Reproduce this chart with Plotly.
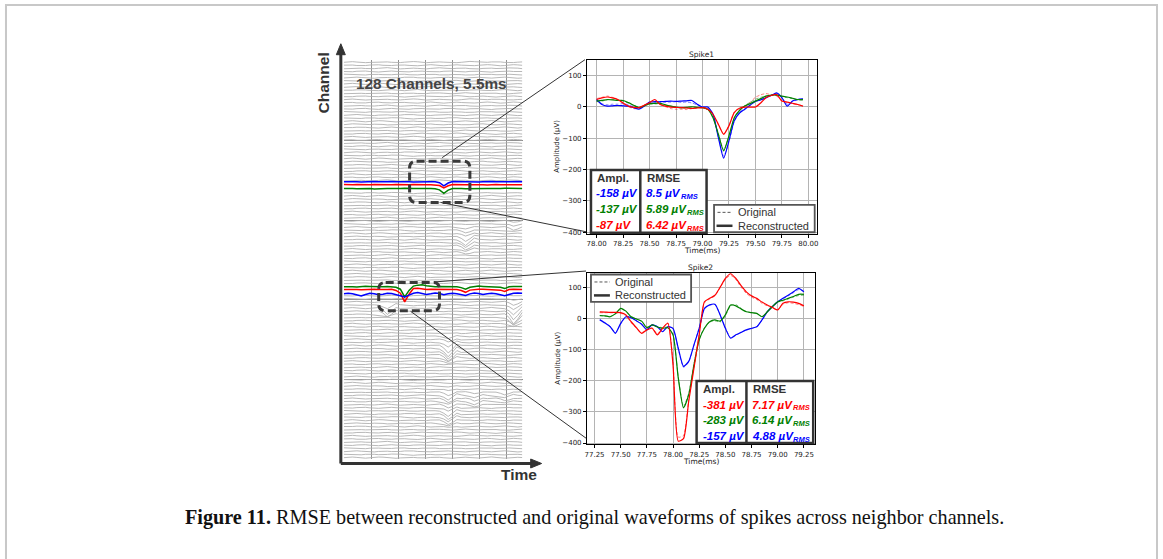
import plotly.graph_objects as go

W, H = 1163, 559


def X(p):
    return p / W


def Y(p):
    return 1 - p / H


# ---------------- data: Spike1 panel (µV vs ms) ----------------
S1_T0, S1_DT, S1_N = 78.00, 0.05, 40
S1_TIME = [round(S1_T0 + S1_DT * i, 2) for i in range(S1_N)]
S1_BLUE_REC = [23, 7, 2, 3, 4, 3, 2, -3, -8, 2, 15, 16, 16, 17, 18, 17, 18, 19, 20, 8,
               -1, -1, -24, -98, -164, -109, -45, -20, -8, 5, 18, 22, 29, 36, 44, 29, 2, 18, 23, 25]
S1_GREEN_REC = [18, 20, 23, 22, 20, 20, 13, 5, -3, 3, 10, 11, 11, 6, 2, -1, -3, -2, 0, -2,
                -3, -8, -35, -88, -141, -93, -35, -12, 2, 10, 18, 26, 34, 37, 37, 34, 31, 27, 23, 23]
S1_RED_REC = [23, 28, 31, 28, 23, 12, 2, -2, -3, 5, 13, 23, 7, 2, -1, -2, -3, -4, -5, -4,
              -3, -8, -24, -56, -88, -61, -19, -5, -1, -1, -1, 12, 29, 36, 39, 18, 15, 11, 7, 2]
S1_BLUE_ORIG = [20, 10, 6, 8, 8, 10, 6, 0, -6, 4, 12, 14, 13, 14, 15, 16, 14, 15, 12, 6,
                0, -2, -26, -96, -158, -112, -48, -18, -6, 6, 16, 22, 28, 36, 42, 30, 8, 16, 22, 24]
S1_GREEN_ORIG = [16, 18, 22, 24, 22, 18, 12, 4, -2, 2, 8, 9, 9, 5, 2, -1, -4, -3, -1, -2,
                 -4, -9, -36, -86, -137, -95, -38, -10, 4, 14, 24, 30, 34, 36, 36, 33, 29, 26, 22, 21]
S1_RED_ORIG = [26, 30, 34, 30, 22, 10, 0, -6, -6, 2, 10, 18, 8, 0, -6, -8, -8, -9, -6, -4,
               -3, -9, -26, -58, -87, -60, -17, -3, 2, 14, 30, 38, 42, 38, 34, 20, 14, 10, 6, 3]
S1_XTICKS = [78.00, 78.25, 78.50, 78.75, 79.00, 79.25, 79.50, 79.75, 80.00]

# ---------------- data: Spike2 panel ----------------
S2_T0, S2_DT, S2_N = 77.30, 0.05, 40
S2_TIME = [round(S2_T0 + S2_DT * i, 2) for i in range(S2_N)]
S2_RED_REC = [21, 20, 19, 19, 18, 11, -11, -30, -48, -37, -32, -53, -32, -16, -150,
              -394, -386, -266, -160, -53, 53, 64, 74, 100, 128, 143, 128, 105, 85, 72,
              64, 52, 43, 35, 27, 48, 53, 52, 48, 40]
S2_GREEN_REC = [9, 8, 5, 15, 32, 23, 5, -2, -9, -30, -21, -28, -32, -30, -53,
                -191, -287, -245, -149, -69, -32, -11, -5, -9, 11, 43, 40, 30, 21, 18,
                16, 5, 21, 38, 53, 58, 64, 70, 77, 77]
S2_BLUE_REC = [-5, -15, -27, -48, -16, 5, 2, -8, -19, -37, -21, -27, -43, -27, -32,
               -96, -154, -138, -85, -32, 32, 43, 45, 11, -32, -64, -53, -45, -37, -32,
               -27, -5, 21, 38, 53, 64, 74, 85, 96, 85]
S2_RED_ORIG = [18, 18, 18, 17, 16, 8, -14, -32, -46, -35, -30, -50, -30, -14, -140,
               -381, -376, -260, -155, -50, 50, 62, 72, 98, 125, 138, 124, 100, 80, 68,
               60, 48, 40, 33, 27, 45, 50, 48, 44, 38]
S2_GREEN_ORIG = [8, 7, 6, 14, 30, 22, 4, -2, -10, -28, -22, -26, -30, -28, -55,
                 -188, -283, -240, -146, -66, -30, -12, -8, -12, 8, 40, 44, 32, 22, 18,
                 15, 6, 20, 36, 52, 56, 62, 68, 73, 74]
S2_BLUE_ORIG = [-4, -14, -26, -46, -18, 4, 2, -8, -18, -35, -22, -26, -40, -26, -34,
                -98, -157, -140, -86, -30, 30, 42, 44, 12, -30, -62, -55, -45, -38, -33,
                -26, -6, 20, 36, 52, 62, 72, 82, 92, 86]
S2_XTICKS = [77.25, 77.50, 77.75, 78.00, 78.25, 78.50, 78.75, 79.00, 79.25]
Y_TICKS = [-400, -300, -200, -100, 0, 100]

# ---------------- data: tables ----------------
S1_AMPL = ["-158 µV", "-137 µV", "-87 µV"]
S1_RMSE = ["8.5", "5.89", "6.42"]
S1_COLORS = ["#0000ff", "#008000", "#ff0000"]
S2_AMPL = ["-381 µV", "-283 µV", "-157 µV"]
S2_RMSE = ["7.17", "6.14", "4.88"]
S2_COLORS = ["#ff0000", "#008000", "#0000ff"]

# ---------------- data: 128-channel overview (channel units, 4-sample steps) ----------------
N_CH = 128
SAMPLE_STEP = 4
GRAY_TEMPLATES = [
    [0.0, 0.15, 0.25, 0.1, -0.1, -0.2, -0.05, 0.15, 0.25, 0.2, 0.0, -0.15, -0.25, -0.1, 0.05,
     0.2, 0.1, -0.05, -0.2, -0.1, 0.1, 0.25, 0.15, -0.05, -0.2, -0.25, -0.05, 0.1, 0.2, 0.05,
     -0.1, -0.15, 0.0, 0.2, 0.3, 0.1, -0.1, -0.2, -0.1, 0.1, 0.15, 0.05],
    [0.1, 0.0, -0.15, -0.25, -0.1, 0.1, 0.2, 0.1, -0.05, -0.1, 0.05, 0.2, 0.3, 0.15, -0.05,
     -0.2, -0.3, -0.15, 0.0, 0.1, 0.05, -0.1, -0.2, -0.05, 0.15, 0.25, 0.2, 0.0, -0.15, -0.2,
     -0.05, 0.1, 0.25, 0.15, 0.0, -0.1, -0.2, -0.15, 0.05, 0.2, 0.1, -0.05],
    [-0.1, 0.05, 0.2, 0.25, 0.1, -0.1, -0.25, -0.2, 0.0, 0.15, 0.1, -0.05, -0.15, 0.0, 0.2,
     0.3, 0.2, 0.0, -0.1, -0.2, -0.15, 0.0, 0.1, 0.25, 0.2, 0.05, -0.1, -0.25, -0.2, 0.0,
     0.15, 0.2, 0.05, -0.1, -0.15, 0.0, 0.15, 0.25, 0.1, -0.1, -0.2, -0.1],
    [0.2, 0.1, -0.05, -0.2, -0.3, -0.15, 0.05, 0.2, 0.1, 0.0, -0.1, -0.05, 0.1, 0.25, 0.15,
     -0.05, -0.2, -0.1, 0.05, 0.15, 0.25, 0.1, -0.1, -0.2, -0.1, 0.05, 0.1, 0.0, -0.15, -0.25,
     -0.1, 0.1, 0.2, 0.25, 0.1, -0.05, -0.1, 0.0, 0.15, 0.05, -0.1, -0.15],
    [0.0, -0.2, -0.1, 0.1, 0.25, 0.2, 0.0, -0.15, -0.2, -0.05, 0.15, 0.2, 0.05, -0.1, -0.25,
     -0.15, 0.05, 0.2, 0.15, 0.0, -0.1, -0.2, -0.1, 0.1, 0.3, 0.2, 0.0, -0.2, -0.15, 0.05,
     0.2, 0.1, -0.05, -0.2, -0.25, -0.05, 0.1, 0.2, 0.15, 0.0, -0.1, 0.0],
    [-0.15, -0.05, 0.1, 0.2, 0.1, -0.05, -0.15, -0.1, 0.05, 0.25, 0.3, 0.1, -0.1, -0.2, -0.1,
     0.05, 0.1, 0.0, -0.15, -0.2, 0.0, 0.2, 0.25, 0.1, -0.05, -0.1, 0.05, 0.2, 0.1, -0.1,
     -0.25, -0.2, 0.0, 0.15, 0.1, -0.05, -0.1, 0.05, 0.2, 0.25, 0.1, -0.1],
]
GRAY_SCALE = 0.8
# (first channel, sample, depth per channel from that channel upward)
GRAY_SPIKES = [
    (66, 112, [0.5, 0.9, 1.3, 1.7, 1.8, 1.4, 1.0, 0.7, 0.4]),
    (43, 156, [0.8, 1.5, 2.4, 3.0, 2.8, 2.2, 1.6, 1.0, 0.5]),
    (46, 40, [0.8, 1.6, 2.0, 1.2]),
    (31, 96, [0.6, 1.2, 1.9, 2.5, 2.6, 2.2, 1.6, 1.0, 0.7, 0.4]),
    (10, 96, [0.4, 0.8, 1.2, 1.6, 1.9, 1.7, 1.3, 1.0, 0.8, 1.2, 1.5, 1.0, 0.6, 0.3]),
    (17, 120, [0.5, 0.9, 1.0, 0.7, 0.4]),
    (73, 156, [0.5, 0.9, 0.7, 0.4]),
    (18, 148, [0.3, 0.6, 0.8, 0.6, 0.4]),
    (84, 92, [0.3, 0.4, 0.3]),
]
SPIKE_SHAPE = [(-1, -0.35), (0, -1.0), (1, -0.45), (2, 0.2)]
SKIP_CHANNELS = [53, 54, 55, 86, 87, 88]

# highlighted channels in the overview (base channel, offsets)
OV1_BASES = {"blue": 89.1, "red": 88.1, "green": 86.9}
OV1 = {
    "blue": [0.0, 0.05, 0.1, 0.0, -0.05, 0.05, 0.15, 0.05, 0.0, 0.1, 0.2, 0.1, 0.0, 0.05, 0.1,
             0.0, -0.05, 0.0, 0.1, 0.05, 0.0, 0.0, -0.3, -1.3, -0.4, 0.1, 0.05, 0.0, 0.05, 0.1,
             0.0, -0.05, 0.0, 0.1, 0.05, 0.0, 0.05, 0.1, 0.0, 0.0, 0.05, 0.0],
    "red": [0.1, 0.0, 0.05, 0.1, 0.0, -0.1, 0.0, 0.1, 0.05, 0.0, -0.05, 0.0, 0.1, 0.05, 0.0,
            0.05, 0.15, 0.05, 0.0, 0.0, 0.05, 0.0, -0.2, -1.0, -0.3, 0.1, 0.0, -0.05, 0.0, 0.05,
            0.1, 0.0, 0.0, -0.05, 0.05, 0.1, 0.0, 0.0, 0.05, 0.0, -0.05, 0.0],
    "green": [0.0, 0.1, 0.05, -0.05, 0.0, 0.1, 0.0, -0.1, 0.0, 0.1, 0.05, 0.0, -0.05, 0.0, 0.1,
              0.15, 0.05, 0.0, 0.05, 0.1, 0.0, -0.05, -0.4, -1.5, -0.5, 0.05, 0.1, 0.0, -0.05, 0.0,
              0.05, 0.1, 0.0, 0.05, 0.0, -0.05, 0.0, 0.1, 0.05, 0.0, 0.0, 0.05],
}
OV2_BASES = {"green": 55.4, "red": 54.5, "blue": 53.1}
OV2 = {
    "green": [0.0, 0.1, 0.0, -0.1, 0.05, 0.15, 0.1, 0.0, -0.1, 0.0, 0.1, 0.0, -0.2, -0.8, -3.3,
              -1.2, 0.2, 0.5, 0.6, 0.3, 0.1, 0.0, 0.1, 0.05, 0.0, 0.1, 0.0, -0.3, -0.8, -0.2,
              0.1, 0.2, 0.1, 0.0, 0.1, 0.0, -0.2, -0.6, 0.0, 0.1, 0.0, 0.05],
    "red": [0.0, 0.05, 0.1, 0.0, -0.1, 0.0, 0.1, 0.05, 0.0, -0.1, 0.0, 0.1, -0.3, -1.2, -4.0,
            -1.5, 0.3, 0.4, 0.2, 0.0, 0.1, 0.05, 0.0, 0.1, 0.0, -0.05, 0.0, -0.3, -0.9, -0.2,
            0.0, 0.1, 0.05, 0.0, 0.0, 0.05, -0.2, -0.6, 0.0, 0.05, 0.0, 0.0],
    "blue": [0.0, 0.2, 0.0, -0.4, -0.7, -0.2, 0.2, 0.0, -0.3, -0.1, 0.2, 0.1, -0.2, -0.5, -1.0,
             -0.4, 0.2, 0.4, 0.1, -0.2, 0.0, 0.3, 0.1, -0.3, 0.0, 0.2, 0.0, -0.3, -0.5, 0.0,
             0.3, 0.1, -0.2, 0.0, 0.2, 0.0, -0.3, -0.6, -0.2, 0.2, 0.3, 0.2],
}
COLORS = {"blue": "#0000ff", "green": "#008000", "red": "#ff0000"}
ORIG_COLORS = {"blue": "rgba(0,0,255,0.5)", "green": "rgba(0,128,0,0.5)", "red": "rgba(255,0,0,0.5)"}

# ---------------- figure ----------------
fig = go.Figure()

spike_map = {}
for ch0, s, depths in GRAY_SPIKES:
    for k, d in enumerate(depths):
        spike_map.setdefault(ch0 + k, []).append((s, d))

gx, gy = [], []
for ch in range(N_CH):
    if ch in SKIP_CHANNELS:
        continue
    tpl = GRAY_TEMPLATES[ch % len(GRAY_TEMPLATES)]
    vals = list(tpl) if (ch // len(GRAY_TEMPLATES)) % 2 == 0 else list(reversed(tpl))
    vals = [v * GRAY_SCALE for v in vals]
    for s, d in spike_map.get(ch, []):
        idx = s // SAMPLE_STEP
        for off, frac in SPIKE_SHAPE:
            j = idx + off
            if 0 <= j < len(vals):
                vals[j] += d * frac
    gx += [SAMPLE_STEP * i for i in range(len(vals))] + [None]
    gy += [ch + 0.5 + v for v in vals] + [None]

fig.add_trace(go.Scatter(x=gx, y=gy, mode="lines", line=dict(color="#b0b0b0", width=0.9),
                         xaxis="x3", yaxis="y3", hoverinfo="skip"))

for group, bases in ((OV1, OV1_BASES), (OV2, OV2_BASES)):
    for name, offs in group.items():
        fig.add_trace(go.Scatter(x=[SAMPLE_STEP * i for i in range(len(offs))],
                                 y=[bases[name] + v for v in offs], mode="lines",
                                 line=dict(color=COLORS[name], width=1.5),
                                 xaxis="x3", yaxis="y3", hoverinfo="skip"))


def add_panel(time, orig, rec, xa, ya):
    for name in ("blue", "green", "red"):
        fig.add_trace(go.Scatter(x=time, y=orig[name], mode="lines",
                                 line=dict(color=ORIG_COLORS[name], width=1, dash="3px,2px",
                                           shape="spline", smoothing=0.6),
                                 xaxis=xa, yaxis=ya, hoverinfo="skip"))
    for name in ("blue", "green", "red"):
        fig.add_trace(go.Scatter(x=time, y=rec[name], mode="lines",
                                 line=dict(color=COLORS[name], width=1.2,
                                           shape="spline", smoothing=0.6),
                                 xaxis=xa, yaxis=ya, hoverinfo="skip"))


add_panel(S1_TIME, {"blue": S1_BLUE_ORIG, "green": S1_GREEN_ORIG, "red": S1_RED_ORIG},
          {"blue": S1_BLUE_REC, "green": S1_GREEN_REC, "red": S1_RED_REC}, "x", "y")
add_panel(S2_TIME, {"blue": S2_BLUE_ORIG, "green": S2_GREEN_ORIG, "red": S2_RED_ORIG},
          {"blue": S2_BLUE_REC, "green": S2_GREEN_REC, "red": S2_RED_REC}, "x2", "y2")

tickfont = dict(family="DejaVu Sans", size=7, color="#222")
ax_common = dict(showline=True, mirror=True, linecolor="black", linewidth=1,
                 ticks="outside", ticklen=3, tickwidth=1, tickcolor="black",
                 showgrid=True, gridcolor="#b4b4b4", gridwidth=1, zeroline=False,
                 tickfont=tickfont, fixedrange=True)

fig.update_layout(
    xaxis=dict(domain=[X(587), X(817.5)], range=[77.909, 80.079], anchor="y",
               tickvals=S1_XTICKS, ticktext=[f"{v:.2f}" for v in S1_XTICKS], **ax_common),
    yaxis=dict(domain=[Y(235), Y(60)], range=[-405.4, 150.2], anchor="x",
               tickvals=Y_TICKS, **ax_common),
    xaxis2=dict(domain=[X(587), X(816)], range=[77.178, 79.358], anchor="y2",
                tickvals=S2_XTICKS, ticktext=[f"{v:.2f}" for v in S2_XTICKS], **ax_common),
    yaxis2=dict(domain=[Y(446.5), Y(274.5)], range=[-403.5, 145.3], anchor="x2",
                tickvals=Y_TICKS, **ax_common),
    xaxis3=dict(domain=[X(343), X(523)], range=[0, 165], anchor="y3", tick0=0, dtick=25,
                showgrid=True, gridcolor="#8f8f8f", gridwidth=1, zeroline=False,
                showticklabels=False, ticks="", showline=False, fixedrange=True),
    yaxis3=dict(domain=[Y(461.7), Y(60)], range=[0, 128.3], anchor="x3", tick0=0, dtick=25.6,
                showgrid=True, gridcolor="#8f8f8f", gridwidth=1, zeroline=False,
                showticklabels=False, ticks="", showline=False, fixedrange=True),
)

# ---------------- shapes ----------------
shapes = []


def line(x0, y0, x1, y1, color="#333", width=1, dash=None):
    d = dict(type="line", xref="paper", yref="paper", x0=X(x0), y0=Y(y0), x1=X(x1), y1=Y(y1),
             line=dict(color=color, width=width), layer="above")
    if dash:
        d["line"]["dash"] = dash
    shapes.append(d)


def rect(x0, y0, x1, y1, color="#333", width=1, fill="white"):
    shapes.append(dict(type="rect", xref="paper", yref="paper", x0=X(x0), y0=Y(y0), x1=X(x1),
                       y1=Y(y1), line=dict(color=color, width=width), fillcolor=fill, layer="above"))


def path(pts, color, fill=None, width=1):
    s = "M " + " L ".join(f"{X(a):.6f},{Y(b):.6f}" for a, b in pts) + " Z"
    d = dict(type="path", xref="paper", yref="paper", path=s,
             line=dict(color=color, width=width), layer="above")
    if fill:
        d["fillcolor"] = fill
    shapes.append(d)


def rrect(x0, y0, x1, y1, r, color, width, dash):
    p = (f"M {X(x0 + r)},{Y(y0)} L {X(x1 - r)},{Y(y0)} Q {X(x1)},{Y(y0)} {X(x1)},{Y(y0 + r)} "
         f"L {X(x1)},{Y(y1 - r)} Q {X(x1)},{Y(y1)} {X(x1 - r)},{Y(y1)} "
         f"L {X(x0 + r)},{Y(y1)} Q {X(x0)},{Y(y1)} {X(x0)},{Y(y1 - r)} "
         f"L {X(x0)},{Y(y0 + r)} Q {X(x0)},{Y(y0)} {X(x0 + r)},{Y(y0)} Z")
    shapes.append(dict(type="path", xref="paper", yref="paper", path=p,
                       line=dict(color=color, width=width, dash=dash), layer="above"))


# outer page frame
shapes.append(dict(type="rect", xref="paper", yref="paper", x0=X(4), y0=Y(5), x1=X(1159),
                   y1=Y(575), line=dict(color="#c8c8c8", width=2), layer="below"))

# overview axes with arrows
line(340, 466, 340, 52, "#333", 3)
path([(340, 44), (335.5, 55), (344.5, 55)], "#333", fill="#333")
line(340, 466, 532, 466, "#333", 3)
path([(541.5, 466), (530.5, 461.5), (530.5, 470.5)], "#333", fill="#333")

# zoom boxes and connectors
rrect(409, 162, 469.5, 203.5, 7, "#3a3a3a", 3, "8px,4px")
rrect(378, 284, 439, 312.5, 7, "#3a3a3a", 3, "8px,4px")
line(441.7, 158.5, 585, 60, "#333", 1)
line(440, 203.5, 586, 233, "#333", 1)
line(433, 283.5, 586, 272.5, "#333", 1)
line(410, 313, 586, 440.5, "#333", 1)

# tables
rect(591, 171, 707, 234, "#333", 2.5)
line(640.5, 171, 640.5, 234, "#333", 2.5)
rect(697, 383, 814, 445.5, "#333", 2.5)
line(747, 383, 747, 445.5, "#333", 2.5)

# legends
rect(714.5, 206, 815.5, 233.5, "#555", 1.8)
line(718, 213.5, 733, 213.5, "#555", 1, "3px,2px")
line(717, 227, 733, 227, "#333", 2.5)
rect(591, 276, 691.5, 303.5, "#555", 1.8)
line(594.5, 283.5, 610, 283.5, "#555", 1, "3px,2px")
line(594, 297, 610, 297, "#333", 2.5)

# ---------------- annotations ----------------
anns = []


def ann(x, y, text, size, color="#222", family="DejaVu Sans", xanchor="center",
        yanchor="middle", angle=0, weight="normal", style="normal"):
    anns.append(dict(x=X(x), y=Y(y), xref="paper", yref="paper", text=text, showarrow=False,
                     font=dict(size=size, color=color, family=family, weight=weight,
                               style=style),
                     xanchor=xanchor, yanchor=yanchor, textangle=angle))


ann(702, 55, "Spike1", 7.5)
ann(702, 251.5, "Time(ms)", 7.5)
ann(557, 147.5, "Amplitude (µV)", 7, angle=-90)
ann(701, 268.5, "Spike2", 7.5)
ann(701, 464, "Time(ms)", 7.5)
ann(557, 360.5, "Amplitude (µV)", 7, angle=-90)

SANS = "Liberation Sans"
ann(323, 83, "Channel", 15.5, "#333", SANS, angle=-90, weight="bold")
ann(519, 477.5, "Time", 15.5, "#333", SANS, weight="bold")
ann(431, 83.5, "128 Channels, 5.5ms", 15.3, "#444", SANS, weight="bold")

TS = 11.5
SUB = 7.5
# Liberation Sans Bold advance widths (em) for the value strings
ADV = {"0": 0.556, "1": 0.556, "2": 0.556, "3": 0.556, "4": 0.556, "5": 0.556, "6": 0.556,
       "7": 0.556, "8": 0.556, "9": 0.556, ".": 0.278, " ": 0.278, "µ": 0.611, "V": 0.667}


def rmse_cell(x, y, value, color):
    txt = f"{value} µV"
    wpx = sum(ADV[c] for c in txt) * TS
    ann(x, y, txt, TS, color, SANS, xanchor="left", weight="bold", style="italic")
    ann(x + wpx + 0.5, y + 3.2, "RMS", SUB, color, SANS, xanchor="left", weight="bold",
        style="italic")


def table(x_a, x_r, ys, ampl, rmse, colors):
    ann(x_a + 0.5, ys[0], "Ampl.", TS, "#333", SANS, xanchor="left", weight="bold")
    ann(x_r + 0.5, ys[0], "RMSE", TS, "#333", SANS, xanchor="left", weight="bold")
    for yy, a, r, c in zip(ys[1:], ampl, rmse, colors):
        ann(x_a, yy, a, TS, c, SANS, xanchor="left", weight="bold", style="italic")
        rmse_cell(x_r, yy, r, c)


table(594.5, 644.5, [179, 194.5, 210.3, 226.3], S1_AMPL, S1_RMSE, S1_COLORS)
table(701, 751, [391.5, 407, 422.7, 438.2], S2_AMPL, S2_RMSE, S2_COLORS)

# legends
ann(737, 213.5, "Original", 11, "#333", SANS, xanchor="left")
ann(737, 227, "Reconstructed", 11, "#333", SANS, xanchor="left")
ann(613.5, 283.5, "Original", 11, "#333", SANS, xanchor="left")
ann(613.5, 297, "Reconstructed", 11, "#333", SANS, xanchor="left")

# caption
ann(182, 520, "<b>Figure 11.</b> RMSE between reconstructed and original waveforms of spikes "
              "across neighbor channels.", 20.2, "#111", "Liberation Serif", xanchor="left")

fig.update_layout(width=W, height=H, margin=dict(l=0, r=0, t=0, b=0), autosize=False,
                  paper_bgcolor="white", plot_bgcolor="white", showlegend=False,
                  shapes=shapes, annotations=anns)

fig.write_html("out.html")
